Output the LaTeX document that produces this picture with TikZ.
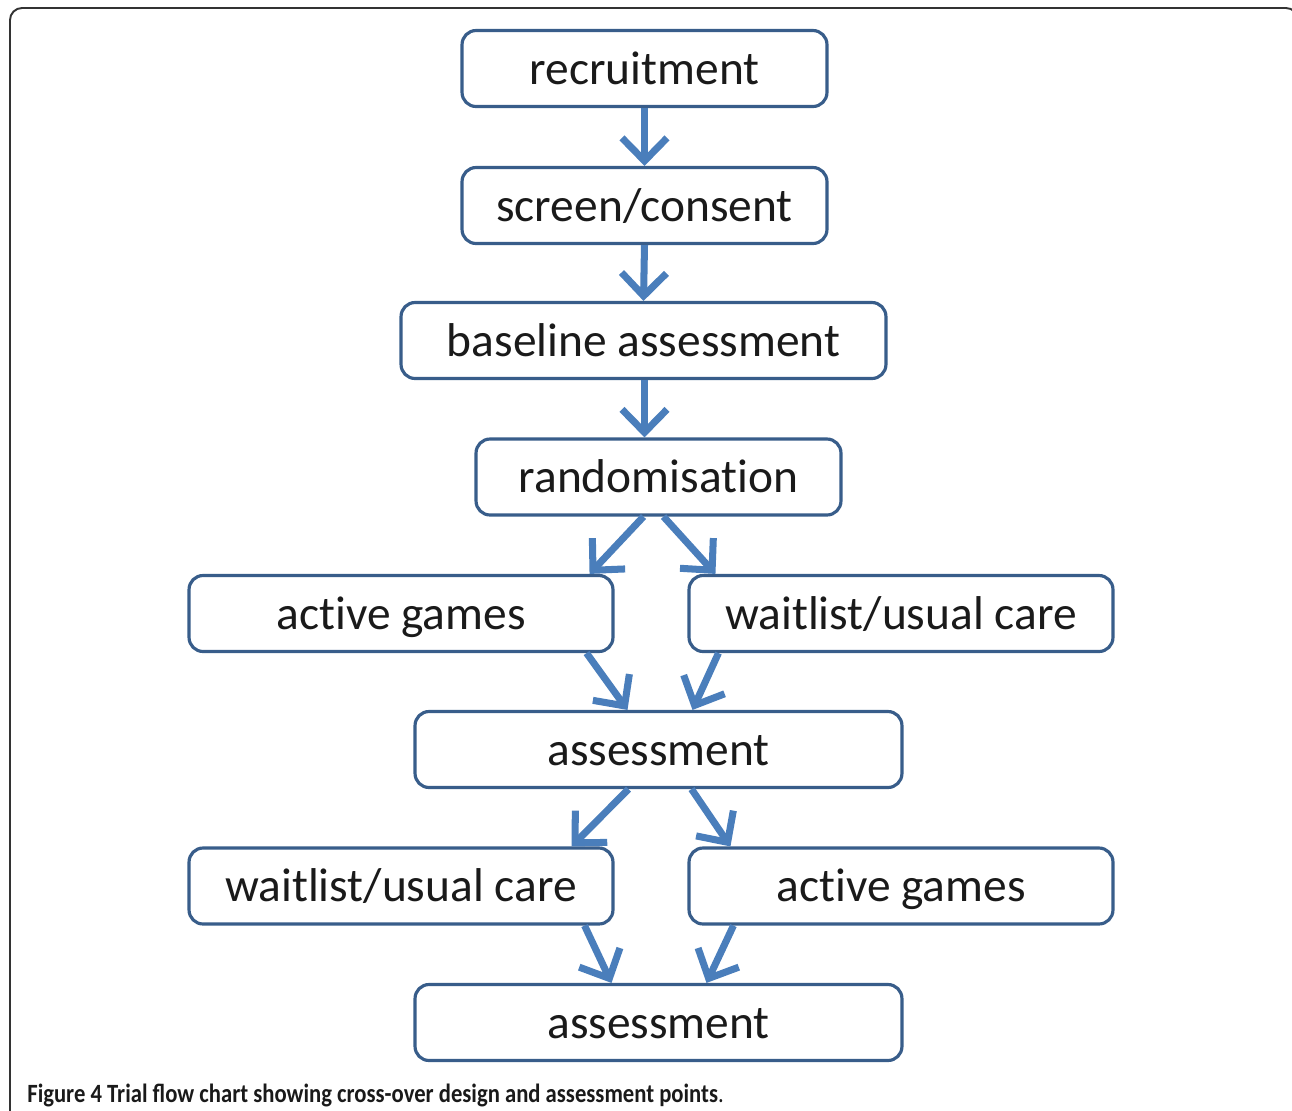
\documentclass[tikz,border=0pt]{standalone}
\usepackage{fontspec}
\usepackage{xcolor}
\usepackage{tikz}
\usetikzlibrary{arrows.meta,calc}
\setmainfont{Carlito}[Ligatures={NoCommon}]
\newfontfamily\capfont[FakeStretch=0.86]{Carlito}
\definecolor{boxblue}{HTML}{385D8A}
\definecolor{arrblue}{HTML}{4A7EBB}
\definecolor{txtgray}{HTML}{1A1A1A}

\begin{document}
\begin{tikzpicture}[x=0.02cm,y=-0.02cm,
	box/.style={draw=boxblue,line width=1.8pt,rounded corners=0.28cm,fill=white,
		minimum height=1.52cm,inner sep=0pt,text height=21pt,text depth=3pt,
		text=txtgray,font=\fontsize{27}{30}\selectfont},
	arr/.style={draw=arrblue,line width=4pt,-{Straight Barb[length=0.46cm,width=0.9cm]}},
	frame/.style={draw=black!80,line width=1.1pt,rounded corners=0.24cm}]
			\useasboundingbox (0,0) rectangle (1292,1110);
			% 外框
			\draw[frame] (10,1120) -- (10,8) -- (1298,8) -- (1298,60);
			% 方框
			\node[box,minimum width=7.3cm] (rec) at (644.5,68.5) {recruitment};
			\node[box,minimum width=7.3cm] (scr) at (644.5,205.5) {screen/consent};
			\node[box,minimum width=9.7cm] (base) at (643.5,340.5) {baseline assessment};
			\node[box,minimum width=7.3cm] (rand) at (658.5,477) {randomisation};
			\node[box,minimum width=8.48cm] (actA) at (401,613.5) {active games};
			\node[box,minimum width=8.48cm] (waitA) at (901,613.5) {waitlist/usual care};
			\node[box,minimum width=9.74cm] (assA) at (658.5,749.5) {assessment};
			\node[box,minimum width=8.48cm] (waitB) at (401,886) {waitlist/usual care};
			\node[box,minimum width=8.48cm] (actB) at (901,886) {active games};
			\node[box,minimum width=9.74cm] (assB) at (658.5,1022.5) {assessment};
			% 箭头
			\draw[arr] (rec.south) -- (scr.north);
			\draw[arr] (scr.south) -- (base.north);
			\draw[arr] ($(base.south)+(1,0)$) -- ($(rand.north)+(-14,0)$);
			\draw[arr] ($(rand.south)+(-15,0)$) -- ($(actA.north east)+(-25,0)$);
			\draw[arr] ($(rand.south)+(5,0)$) -- ($(waitA.north west)+(28,0)$);
			\draw[arr] ($(actA.south east)+(-28,0)$) -- ($(assA.north)+(-31,0)$);
			\draw[arr] ($(waitA.south west)+(31,0)$) -- ($(assA.north)+(34,0)$);
			\draw[arr] ($(assA.south)+(-30,0)$) -- ($(waitB.north east)+(-43,0)$);
			\draw[arr] ($(assA.south)+(33,0)$) -- ($(actB.north west)+(43,0)$);
			\draw[arr] ($(waitB.south east)+(-30,0)$) -- ($(assB.north)+(-47,0)$);
			\draw[arr] ($(actB.south west)+(46,0)$) -- ($(assB.north)+(48,0)$);
			% 图题
			\node[anchor=base west,inner sep=0pt,text=txtgray,font=\capfont\fontsize{15}{17}\selectfont] (cap) at (27,1102)
				{\textbf{Figure 4} \textbf{Trial flow chart showing cross-over design and assessment points}.};
		\end{tikzpicture}
\end{document}
